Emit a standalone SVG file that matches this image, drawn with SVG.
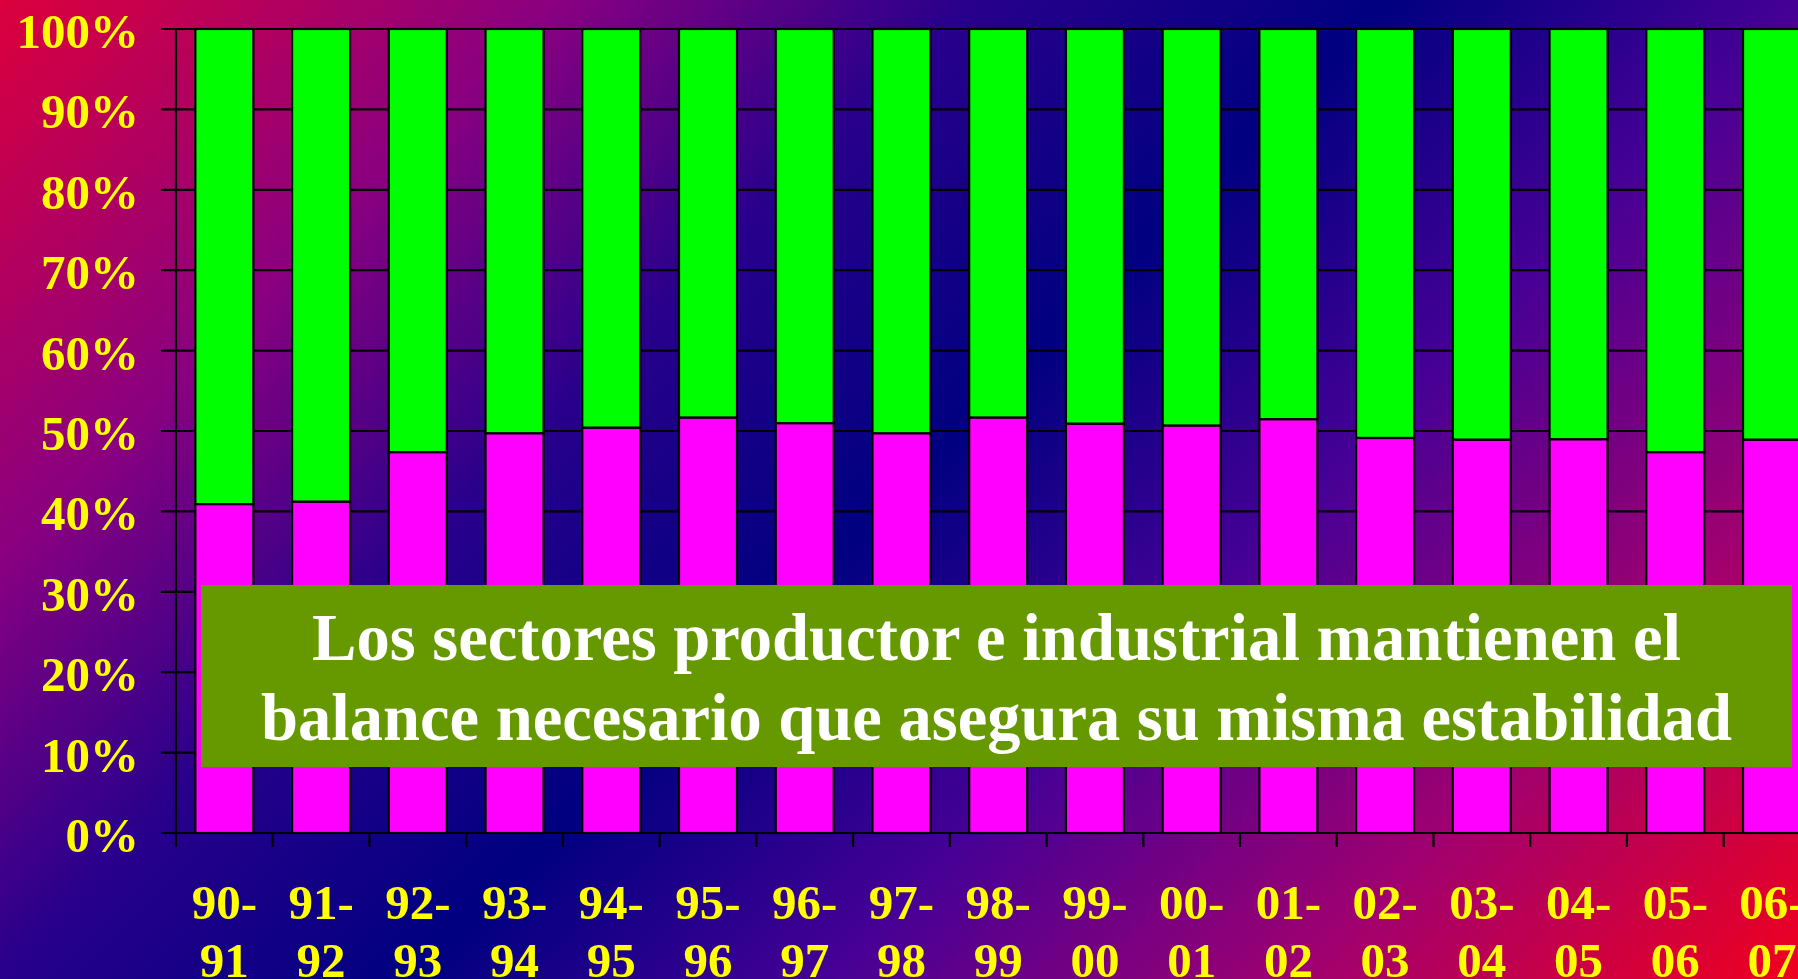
<svg xmlns="http://www.w3.org/2000/svg" width="1798" height="979" viewBox="0 0 1798 979">
<defs>
<linearGradient id="bg" gradientUnits="userSpaceOnUse" x1="0" y1="0" x2="1388.5" y2="1388.5">
<stop offset="0" stop-color="#dc003c"/>
<stop offset="0.2" stop-color="#8a0080"/>
<stop offset="0.35" stop-color="#28008c"/>
<stop offset="0.5" stop-color="#000080"/>
<stop offset="0.65" stop-color="#460096"/>
<stop offset="0.82" stop-color="#a00070"/>
<stop offset="1" stop-color="#f0001e"/>
</linearGradient>
<style>
.ln{stroke:#000;stroke-width:2.2;fill:none}
.g{fill:#00ff00;stroke:#000;stroke-width:2.2}
.p{fill:#ff00ff;stroke:#000;stroke-width:2.2}
.lab{font-family:"Liberation Serif","Times New Roman",serif;font-weight:bold;font-size:49px;fill:#ffff00}
.yl{text-anchor:end}
.xl{text-anchor:middle}
.note{font-family:"Liberation Serif","Times New Roman",serif;font-weight:bold;font-size:67px;fill:#ffffff;text-anchor:middle}
</style>
</defs>
<rect x="0" y="0" width="1798" height="979" fill="url(#bg)"/>
<g id="grid" class="ln">
<path d="M161 29H1798M161 109.4H1798M161 189.8H1798M161 270.2H1798M161 350.6H1798M161 431H1798M161 511.4H1798M161 591.8H1798M161 672.2H1798M161 752.6H1798"/>
</g>
<g id="bars">
<g id="bar-90-91"><rect class="g" x="195.35" y="29" width="58" height="475.2"/><rect class="p" x="195.35" y="504.2" width="58" height="328.8"/></g>
<g id="bar-91-92"><rect class="g" x="292.08" y="29" width="58" height="472.8"/><rect class="p" x="292.08" y="501.8" width="58" height="331.2"/></g>
<g id="bar-92-93"><rect class="g" x="388.81" y="29" width="58" height="423.3"/><rect class="p" x="388.81" y="452.3" width="58" height="380.7"/></g>
<g id="bar-93-94"><rect class="g" x="485.54" y="29" width="58" height="404.4"/><rect class="p" x="485.54" y="433.4" width="58" height="399.6"/></g>
<g id="bar-94-95"><rect class="g" x="582.27" y="29" width="58" height="398.8"/><rect class="p" x="582.27" y="427.8" width="58" height="405.2"/></g>
<g id="bar-95-96"><rect class="g" x="679" y="29" width="58" height="388.7"/><rect class="p" x="679" y="417.7" width="58" height="415.3"/></g>
<g id="bar-96-97"><rect class="g" x="775.73" y="29" width="58" height="394.3"/><rect class="p" x="775.73" y="423.3" width="58" height="409.7"/></g>
<g id="bar-97-98"><rect class="g" x="872.46" y="29" width="58" height="404.4"/><rect class="p" x="872.46" y="433.4" width="58" height="399.6"/></g>
<g id="bar-98-99"><rect class="g" x="969.19" y="29" width="58" height="388.7"/><rect class="p" x="969.19" y="417.7" width="58" height="415.3"/></g>
<g id="bar-99-00"><rect class="g" x="1065.92" y="29" width="58" height="394.8"/><rect class="p" x="1065.92" y="423.8" width="58" height="409.2"/></g>
<g id="bar-00-01"><rect class="g" x="1162.65" y="29" width="58" height="396.7"/><rect class="p" x="1162.65" y="425.7" width="58" height="407.3"/></g>
<g id="bar-01-02"><rect class="g" x="1259.38" y="29" width="58" height="390.3"/><rect class="p" x="1259.38" y="419.3" width="58" height="413.7"/></g>
<g id="bar-02-03"><rect class="g" x="1356.11" y="29" width="58" height="409"/><rect class="p" x="1356.11" y="438" width="58" height="395"/></g>
<g id="bar-03-04"><rect class="g" x="1452.84" y="29" width="58" height="410.8"/><rect class="p" x="1452.84" y="439.8" width="58" height="393.2"/></g>
<g id="bar-04-05"><rect class="g" x="1549.57" y="29" width="58" height="410.4"/><rect class="p" x="1549.57" y="439.4" width="58" height="393.6"/></g>
<g id="bar-05-06"><rect class="g" x="1646.3" y="29" width="58" height="423.3"/><rect class="p" x="1646.3" y="452.3" width="58" height="380.7"/></g>
<g id="bar-06-07"><rect class="g" x="1743.03" y="29" width="58" height="410.8"/><rect class="p" x="1743.03" y="439.8" width="58" height="393.2"/></g>
</g>
<g id="axes" class="ln">
<path d="M176 29V847M161 833H1798"/>
<path d="M272.73 833V847M369.46 833V847M466.19 833V847M562.92 833V847M659.65 833V847M756.38 833V847M853.11 833V847M949.84 833V847M1046.57 833V847M1143.3 833V847M1240.03 833V847M1336.76 833V847M1433.49 833V847M1530.22 833V847M1626.95 833V847M1723.68 833V847"/>
</g>
<g id="y-labels" class="lab yl">
<text x="139" y="48">100%</text>
<text x="139" y="128.4">90%</text>
<text x="139" y="208.8">80%</text>
<text x="139" y="289.2">70%</text>
<text x="139" y="369.6">60%</text>
<text x="139" y="450">50%</text>
<text x="139" y="530.4">40%</text>
<text x="139" y="610.8">30%</text>
<text x="139" y="691.2">20%</text>
<text x="139" y="771.6">10%</text>
<text x="139" y="852">0%</text>
</g>
<g id="x-labels" class="lab xl">
<text x="224.35" y="919">90-</text><text x="224.35" y="977">91</text>
<text x="321.08" y="919">91-</text><text x="321.08" y="977">92</text>
<text x="417.81" y="919">92-</text><text x="417.81" y="977">93</text>
<text x="514.54" y="919">93-</text><text x="514.54" y="977">94</text>
<text x="611.27" y="919">94-</text><text x="611.27" y="977">95</text>
<text x="708" y="919">95-</text><text x="708" y="977">96</text>
<text x="804.73" y="919">96-</text><text x="804.73" y="977">97</text>
<text x="901.46" y="919">97-</text><text x="901.46" y="977">98</text>
<text x="998.19" y="919">98-</text><text x="998.19" y="977">99</text>
<text x="1094.92" y="919">99-</text><text x="1094.92" y="977">00</text>
<text x="1191.65" y="919">00-</text><text x="1191.65" y="977">01</text>
<text x="1288.38" y="919">01-</text><text x="1288.38" y="977">02</text>
<text x="1385.11" y="919">02-</text><text x="1385.11" y="977">03</text>
<text x="1481.84" y="919">03-</text><text x="1481.84" y="977">04</text>
<text x="1578.57" y="919">04-</text><text x="1578.57" y="977">05</text>
<text x="1675.3" y="919">05-</text><text x="1675.3" y="977">06</text>
<text x="1772.03" y="919">06-</text><text x="1772.03" y="977">07</text>
</g>
<g id="note">
<rect x="201" y="585" width="1591" height="182" fill="#669900"/>
<text class="note" x="996.5" y="660" textLength="1369" lengthAdjust="spacingAndGlyphs">Los sectores productor e industrial mantienen el</text>
<text class="note" x="996.5" y="739.5" textLength="1471" lengthAdjust="spacingAndGlyphs">balance necesario que asegura su misma estabilidad</text>
</g>
</svg>
